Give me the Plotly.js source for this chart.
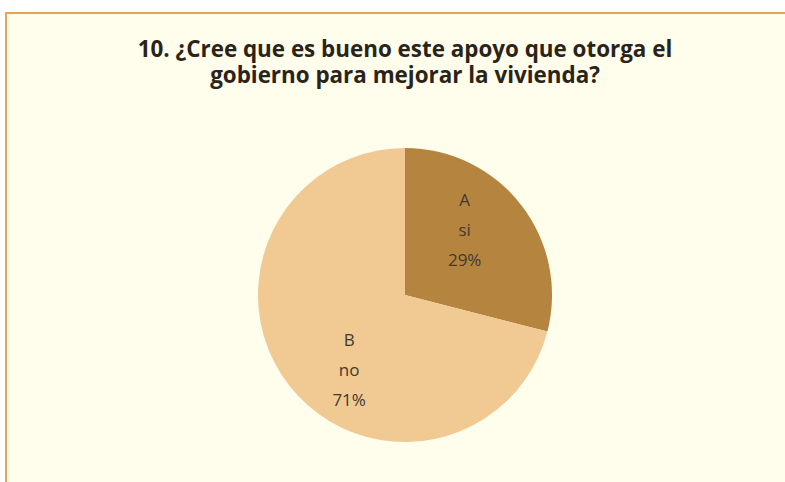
<!DOCTYPE html>
<html>
<head>
<meta charset="utf-8">
<script src="https://cdn.plot.ly/plotly-3.0.1.min.js"></script>
<style>html,body{margin:0;padding:0;background:#fff;}#chart{width:785px;height:482px;}</style>
</head>
<body>
<div id="chart"></div>
<script>
const letters = ["A", "B"];
const answers = ["si", "no"];
const values = [29, 71];
const colors = ["#B5843F", "#F0C993"];
const titleLines = ["10. ¿Cree que es bueno este apoyo que otorga el", "gobierno para mejorar la vivienda?"];

const W = 785, H = 482;
const hid = (s) => "<span style='color:rgba(0,0,0,0)'>" + s + "</span>";
const sp = (s, pad) => "<span style='font-size:17px'>" + s + (pad ? hid(pad) : "") + "</span>";
const blank = "<span style='font-size:17px'>" + hid(".") + "</span>";
const body = (pad) => sp("%{text}", pad) + "<br>" + sp("%{customdata}", pad) + "<br>" + sp("%{percent:.0%}", pad);
const templates = [
  body("n") + "<br>" + blank,
  [blank, blank, blank, blank, blank].join("<br>") + "<br>" + body("Mn")
];

const trace = {
  type: "pie",
  values: values,
  labels: answers,
  text: letters,
  customdata: answers,
  texttemplate: templates,
  textinfo: "text",
  textposition: "inside",
  insidetextorientation: "horizontal",
  sort: false,
  direction: "clockwise",
  rotation: 0,
  marker: { colors: colors, line: { width: 0 } },
  textfont: { family: "'Open Sans', sans-serif", size: 23, color: "#3F3A30" },
  hoverinfo: "none",
  domain: { x: [258 / W, 552 / W], y: [1 - 442 / H, 1 - 148 / H] },
  showlegend: false
};

const layout = {
  width: W, height: H,
  margin: { l: 0, r: 0, t: 0, b: 0 },
  paper_bgcolor: "#FFFFFF",
  plot_bgcolor: "rgba(0,0,0,0)",
  title: {
    text: titleLines.map(t => "<span style='font-size:22.4px'><b>" + t + "</b></span>").join("<br>"),
    font: { family: "'Open Sans', sans-serif", size: 20, color: "#2A2418" },
    x: 405 / W, xanchor: "center",
    y: 1 - 57 / H, yanchor: "top", yref: "container"
  },
  shapes: [{
    type: "rect", xref: "paper", yref: "paper", layer: "below",
    x0: 6 / W, x1: 1.02, y0: -0.02, y1: 1 - 13 / H,
    fillcolor: "#FFFDEC", line: { color: "#E6A550", width: 2 }
  }]
};

Plotly.newPlot("chart", [trace], layout, { displayModeBar: false, staticPlot: true });
</script>
</body>
</html>
